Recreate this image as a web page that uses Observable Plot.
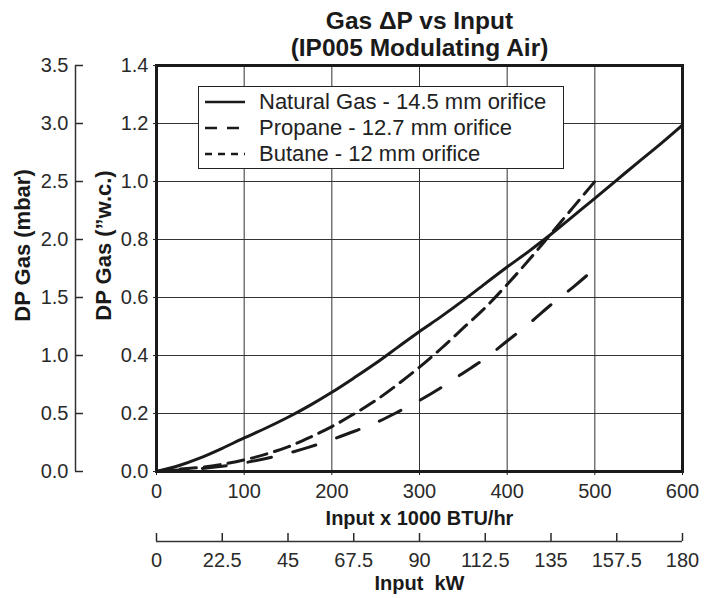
<!DOCTYPE html>
<html><head><meta charset="utf-8">
<script src="https://cdn.jsdelivr.net/npm/d3@7"></script>
<script src="https://cdn.jsdelivr.net/npm/@observablehq/plot@0.6"></script>
<style>
body{margin:0;background:#fff;}
#wrap{position:relative;width:714px;height:598px;font-family:"Liberation Sans",Arial,sans-serif;}
#legend{position:absolute;left:198px;top:86px;width:364px;border:1.5px solid #222;background:#fff;padding:2px 0 1px 0;}
.row{display:flex;align-items:center;height:26px;font-size:22px;color:#222;white-space:nowrap;}
.row svg{margin-left:6px;margin-right:14px;flex:none;}
</style></head>
<body><div id="wrap"><div id="legend"></div></div>
<script>
// ---- data ----
const inputNG = [0,25,50,75,100,125,150,175,200,225,250,275,300,325,350,375,400,425,450,475,500,525,550,575,600];
const naturalGas = [0,0.02,0.047,0.08,0.116,0.15,0.187,0.228,0.273,0.322,0.373,0.428,0.483,0.535,0.59,0.648,0.705,0.76,0.818,0.88,0.942,1.005,1.068,1.13,1.195];
const inputLPG = [0,25,50,75,100,125,150,175,200,225,250,275,300,325,350,375,400,425,450,475,500];
const propane = [0,0.005,0.01,0.018,0.03,0.045,0.063,0.085,0.11,0.138,0.168,0.205,0.245,0.29,0.34,0.39,0.45,0.51,0.575,0.635,0.70];
const butane = [0,0.008,0.014,0.025,0.04,0.06,0.085,0.118,0.155,0.198,0.245,0.3,0.36,0.425,0.495,0.565,0.645,0.73,0.82,0.91,1.0];
const seriesNames = ["Natural Gas - 14.5 mm orifice","Propane - 12.7 mm orifice","Butane - 12 mm orifice"];
const seriesDash = [null,"24,22","16,8"];
const legendDash = [null,"12,10","7,6"];

const xTicks = [0,100,200,300,400,500,600];
const kwTickPositions = [0,75,150,225,300,375,450,525,600];
const kwTickLabels = ["0","22.5","45","67.5","90","112.5","135","157.5","180"];
const wcTicks = [0,0.2,0.4,0.6,0.8,1.0,1.2,1.4];
const wcTickLabels = ["0.0","0.2","0.4","0.6","0.8","1.0","1.2","1.4"];
const mbarTickLabels = ["0.0","0.5","1.0","1.5","2.0","2.5","3.0","3.5"];
const titleLine1 = "Gas \u0394P vs Input";
const titleLine2 = "(IP005 Modulating Air)";
const xTitle = "Input x 1000 BTU/hr";
const kwTitle = "Input  kW";
const yTitleWc = "DP Gas (\u201Dw.c.)";
const yTitleMbar = "DP Gas (mbar)";

const toRows = (xs, ys) => xs.map((x, i) => ({x, y: ys[i]}));
const ngRows = toRows(inputNG, naturalGas);
const prRows = toRows(inputLPG, propane);
const buRows = toRows(inputLPG, butane);

const ink = "#1a1a1a";
const chart = Plot.plot({
  width: 714, height: 598,
  marginLeft: 156, marginRight: 32, marginTop: 65, marginBottom: 127,
  style: {fontFamily: '"Liberation Sans", Arial, sans-serif', color: "#2a2a2a", background: "white", overflow: "visible"},
  x: {domain: [0, 600]},
  y: {domain: [0, 1.4]},
  marks: [
    Plot.gridX(xTicks, {stroke: "#333", strokeOpacity: 1, strokeWidth: 1}),
    Plot.gridY(wcTicks, {stroke: "#333", strokeOpacity: 1, strokeWidth: 1}),
    Plot.line(ngRows, {x: "x", y: "y", stroke: ink, strokeWidth: 3, curve: "monotone-x"}),
    Plot.line(prRows, {x: "x", y: "y", stroke: ink, strokeWidth: 3, strokeDasharray: seriesDash[1], curve: "monotone-x"}),
    Plot.line(buRows, {x: "x", y: "y", stroke: ink, strokeWidth: 3, strokeDasharray: seriesDash[2], curve: "monotone-x"}),
    Plot.frame({stroke: ink, strokeWidth: 3}),
    Plot.axisX(xTicks, {tickSize: 4, tickPadding: 8, fontSize: 20, label: null, stroke: ink}),
    Plot.axisX(kwTickPositions, {tickSize: -8, tickPadding: 19, dy: 70, fontSize: 20, label: null,
      tickFormat: d => kwTickLabels[kwTickPositions.indexOf(d)], strokeWidth: 1.5}),
    Plot.ruleY([0], {dy: 70, stroke: "#333", strokeWidth: 1.5}),
    Plot.axisY(wcTicks, {tickSize: 3, tickPadding: 5, fontSize: 20, label: null,
      tickFormat: d => wcTickLabels[wcTicks.indexOf(d)]}),
    Plot.axisY(wcTicks, {dx: -81, tickSize: -8, tickPadding: 15, fontSize: 20, label: null,
      tickFormat: d => mbarTickLabels[wcTicks.indexOf(d)], strokeWidth: 1.5}),
    Plot.ruleX([0], {dx: -81, stroke: "#333", strokeWidth: 1.5}),
    Plot.text([titleLine1], {frameAnchor: "top", dy: -37, lineAnchor: "bottom", textAnchor: "middle", fontSize: 24.5, fontWeight: "bold", fill: ink}),
    Plot.text([titleLine2], {frameAnchor: "top", dy: -10, lineAnchor: "bottom", textAnchor: "middle", fontSize: 24.5, fontWeight: "bold", fill: ink}),
    Plot.text([xTitle], {frameAnchor: "bottom", dy: 47, lineAnchor: "middle", textAnchor: "middle", fontSize: 20, fontWeight: "bold", fill: ink}),
    Plot.text([kwTitle], {frameAnchor: "bottom", dy: 112, lineAnchor: "middle", textAnchor: "middle", fontSize: 20, fontWeight: "bold", fill: ink}),
    Plot.text([yTitleWc], {frameAnchor: "left", dx: -53, dy: -23, rotate: -90, textAnchor: "middle", lineAnchor: "middle", fontSize: 22, fontWeight: "bold", fill: ink}),
    Plot.text([yTitleMbar], {frameAnchor: "left", dx: -134, dy: -23, rotate: -90, textAnchor: "middle", lineAnchor: "middle", fontSize: 22, fontWeight: "bold", fill: ink})
  ]
});
const wrap = document.getElementById("wrap");
wrap.insertBefore(chart, wrap.firstChild);

const legend = document.getElementById("legend");
seriesNames.forEach((name, i) => {
  const row = document.createElement("div");
  row.className = "row";
  const dash = legendDash[i] ? ` stroke-dasharray="${legendDash[i]}"` : "";
  row.innerHTML = `<svg width="40" height="10"><line x1="0" x2="40" y1="5" y2="5" stroke="${ink}" stroke-width="2.5"${dash}/></svg><span>${name}</span>`;
  legend.appendChild(row);
});
</script>
</body></html>
